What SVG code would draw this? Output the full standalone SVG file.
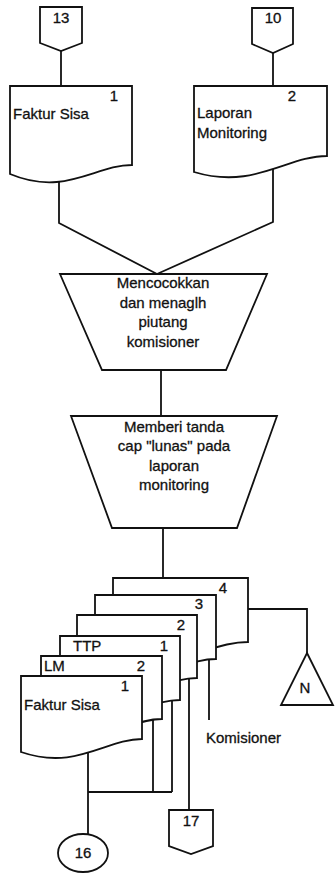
<svg xmlns="http://www.w3.org/2000/svg" width="335" height="875" viewBox="0 0 335 875">
  <style>
    .ln { fill: none; stroke: #111; stroke-width: 1.8; stroke-linejoin: miter; }
    .sh { fill: #fff; stroke: #111; stroke-width: 1.8; stroke-linejoin: miter; }
    text { font-family: "Liberation Sans", Arial, sans-serif; font-size: 15px; fill: #111; stroke: #111; stroke-width: 0.3; }
    .c { text-anchor: middle; }
  </style>
  <rect width="335" height="875" fill="#fff"/>

  <!-- flow lines -->
  <g id="connectors">
    <path class="ln" d="M61,51 V86"/>
    <path class="ln" d="M273,53 V86"/>
    <path class="ln" d="M59,176 V223 L157,274"/>
    <path class="ln" d="M273,165 V222 L157,274"/>
    <path class="ln" d="M161,370 V416"/>
    <path class="ln" d="M163,528 V578"/>
    <path class="ln" d="M248,609 H307 V653"/>
    <path class="ln" d="M209,659 V720"/>
    <path class="ln" d="M88,750 V834"/>
    <path class="ln" d="M88,792 H172"/>
    <path class="ln" d="M153,718 V792"/>
    <path class="ln" d="M172,699 V792"/>
    <path class="ln" d="M189,677 V810"/>
  </g>

  <!-- off-page connector 13 -->
  <g id="opc-13">
    <path class="sh" d="M40,7 H82 V43 L61,51 L40,43 Z"/>
    <text class="c" x="61" y="23">13</text>
  </g>

  <!-- off-page connector 10 -->
  <g id="opc-10">
    <path class="sh" d="M252,8 H293 V44 L273,53 L252,44 Z"/>
    <text class="c" x="273" y="23">10</text>
  </g>

  <!-- document: Faktur Sisa 1 -->
  <g id="doc-faktur-sisa">
    <path class="sh" d="M10,86 H132 V165 C95,165 65,197 10,174 Z"/>
    <text x="13" y="119">Faktur Sisa</text>
    <text class="c" x="114" y="101">1</text>
  </g>

  <!-- document: Laporan Monitoring 2 -->
  <g id="doc-laporan-monitoring">
    <path class="sh" d="M194,86 H327 V156 C287,156 254,190 194,172 Z"/>
    <text x="197" y="118">Laporan</text>
    <text x="197" y="138">Monitoring</text>
    <text class="c" x="292" y="101">2</text>
  </g>

  <!-- manual process: matching and billing -->
  <g id="proc-mencocokkan">
    <path class="sh" d="M60,274 H267 L226,370 H102 Z"/>
    <text class="c" x="163" y="288">Mencocokkan</text>
    <text class="c" x="163" y="308">dan menaglh</text>
    <text class="c" x="163" y="327">piutang</text>
    <text class="c" x="163" y="347">komisioner</text>
  </g>

  <!-- manual process: stamping -->
  <g id="proc-memberi-tanda">
    <path class="sh" d="M71,416 H277 L237,528 H112 Z"/>
    <text class="c" x="174" y="432">Memberi tanda</text>
    <text class="c" x="174" y="451">cap "lunas" pada</text>
    <text class="c" x="174" y="471">laporan</text>
    <text class="c" x="174" y="490">monitoring</text>
  </g>

  <!-- document stack, back to front -->
  <g id="doc-copy-4">
    <path class="sh" d="M113,578 H248 V642 C207,642 174,674 113,651 Z"/>
    <text class="c" x="223" y="593">4</text>
  </g>
  <g id="doc-copy-3">
    <path class="sh" d="M95,595 H216 V659 C180,659 153,691 95,668 Z"/>
    <text class="c" x="199" y="609">3</text>
  </g>
  <g id="doc-copy-2">
    <path class="sh" d="M77,615 H197 V678 C161,678 132,710 77,687 Z"/>
    <text class="c" x="181" y="630">2</text>
  </g>
  <g id="doc-ttp-1">
    <path class="sh" d="M60,636 H180 V700 C144,700 115,732 60,709 Z"/>
    <text x="73" y="651">TTP</text>
    <text class="c" x="164" y="651">1</text>
  </g>
  <g id="doc-lm-2">
    <path class="sh" d="M41,656 H162 V719 C126,719 96,751 41,728 Z"/>
    <text x="44" y="671">LM</text>
    <text class="c" x="141" y="671">2</text>
  </g>
  <g id="doc-faktur-sisa-1">
    <path class="sh" d="M21,676 H142 V739 C106,739 76,771 21,752 Z"/>
    <text x="24" y="710">Faktur Sisa</text>
    <text class="c" x="125" y="691">1</text>
  </g>

  <!-- label for the copy sent to Komisioner -->
  <g id="label-komisioner">
    <text x="206" y="743">Komisioner</text>
  </g>

  <!-- offline file N -->
  <g id="file-n">
    <path class="sh" d="M307,653 L333,705 H281 Z"/>
    <text class="c" x="305" y="693">N</text>
  </g>

  <!-- on-page connector 16 -->
  <g id="conn-16">
    <ellipse class="sh" cx="83" cy="853" rx="25" ry="19"/>
    <text class="c" x="83" y="858">16</text>
  </g>

  <!-- off-page connector 17 -->
  <g id="opc-17">
    <path class="sh" d="M169,810 H213 V846 L191,854 L169,846 Z"/>
    <text class="c" x="191" y="826">17</text>
  </g>
</svg>
